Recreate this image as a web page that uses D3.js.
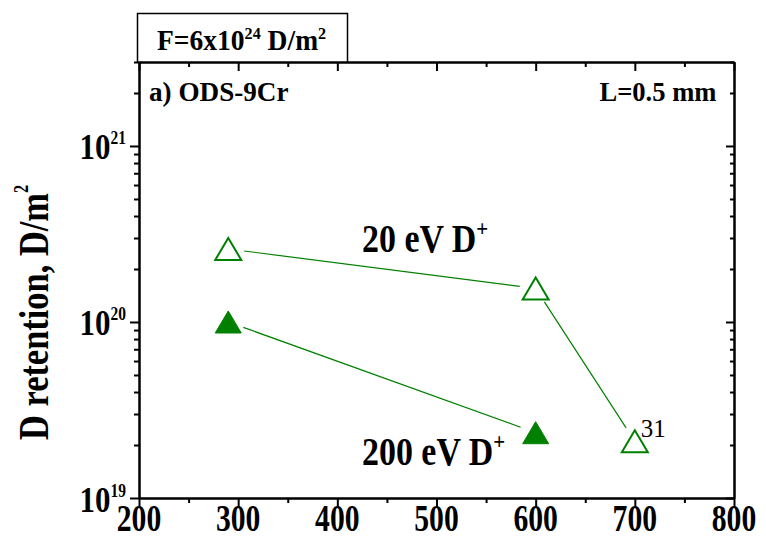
<!DOCTYPE html>
<html>
<head>
<meta charset="utf-8">
<script src="https://cdn.jsdelivr.net/npm/d3@7"></script>
<style>
  body { margin: 0; background: #fff; }
  svg { display: block; }
  text { font-family: "Liberation Serif", "Times New Roman", serif; fill: #000; }
</style>
</head>
<body>
<div id="chart"></div>
<script>
// Data
const xTicks = [200, 300, 400, 500, 600, 700, 800];
const xMinor = [250, 350, 450, 550, 650, 750];
const yMajor = [1e19, 1e20, 1e21];
const yExp = ['19', '20', '21'];

// 20 eV D+ (open) and 200 eV D+ (filled)
const xOpen = [290, 600, 700];
const yOpen = [2.6e20, 1.55e20, 2.1e19];
const xFilled = [290, 600];
const yFilled = [1.0e20, 2.35e19];

const green = '#008000';

// Draw area values
const W = 766, H = 540;
const area = { left: 139, right: 734, top: 62, bottom: 498 };

const svg = d3.select('#chart')
  .append('svg')
    .attr('width', W)
    .attr('height', H);

const x = d3.scaleLinear()
  .domain([200, 800])
  .range([area.left, area.right]);

const y = d3.scaleLog()
  .domain([1e19, 3e21])
  .range([area.bottom, area.top]);

// minor log ticks
const yMinor = [];
yMajor.forEach(d => {
  for (let k = 2; k <= 9; k++) {
    if (d * k <= 3e21 * 1.0001) yMinor.push(d * k);
  }
});

// axes (left/bottom outward, top/right inward)
function styleAxis(g) {
  g.select('.domain').attr('stroke', '#000').attr('stroke-width', 2);
  g.selectAll('.tick line').attr('stroke', '#000').attr('stroke-width', 2);
  g.selectAll('.tick text').remove();
}

svg.append('g')
  .attr('transform', `translate(0,${area.bottom})`)
  .call(d3.axisBottom(x).tickValues(xMinor).tickSize(5).tickSizeOuter(0).tickFormat(''))
  .call(styleAxis);
svg.append('g')
  .attr('transform', `translate(0,${area.bottom})`)
  .call(d3.axisBottom(x).tickValues(xTicks).tickSize(10).tickSizeOuter(0).tickFormat(''))
  .call(styleAxis);

svg.append('g')
  .attr('transform', `translate(0,${area.top})`)
  .call(d3.axisBottom(x).tickValues(xMinor).tickSize(5).tickSizeOuter(0).tickFormat(''))
  .call(styleAxis);
svg.append('g')
  .attr('transform', `translate(0,${area.top})`)
  .call(d3.axisBottom(x).tickValues(xTicks).tickSize(9).tickSizeOuter(0).tickFormat(''))
  .call(styleAxis);

svg.append('g')
  .attr('transform', `translate(${area.left},0)`)
  .call(d3.axisLeft(y).tickValues(yMinor).tickSize(5).tickSizeOuter(0).tickFormat(''))
  .call(styleAxis);
svg.append('g')
  .attr('transform', `translate(${area.left},0)`)
  .call(d3.axisLeft(y).tickValues(yMajor).tickSize(9).tickSizeOuter(0).tickFormat(''))
  .call(styleAxis);

svg.append('g')
  .attr('transform', `translate(${area.right},0)`)
  .call(d3.axisLeft(y).tickValues(yMinor).tickSize(4).tickSizeOuter(0).tickFormat(''))
  .call(styleAxis);
svg.append('g')
  .attr('transform', `translate(${area.right},0)`)
  .call(d3.axisLeft(y).tickValues(yMajor).tickSize(8).tickSizeOuter(0).tickFormat(''))
  .call(styleAxis);

// text helper: parts = [{t, s, dy}]
function addText(px, py, sx, anchor, weight, parts, rot) {
  const g = svg.append('g')
    .attr('transform', `translate(${px},${py})${rot ? ` rotate(${rot})` : ''} scale(${sx},1)`);
  const t = g.append('text')
    .attr('text-anchor', anchor)
    .attr('font-weight', weight);
  parts.forEach(p => {
    t.append('tspan').text(p.t).attr('font-size', p.s).attr('dy', p.dy || 0);
  });
  return g;
}

// x tick labels
xTicks.forEach(v => {
  addText(x(v), 531, 0.78, 'middle', 'bold', [{ t: String(v), s: 38 }]);
});

// y tick labels
yMajor.forEach((v, i) => {
  addText(126, y(v) + 13.5, 0.86, 'end', 'bold', [
    { t: '10', s: 36 },
    { t: yExp[i], s: 18, dy: -15 },
  ]);
});

// Y label
addText(48, 440, 0.82, 'start', 'bold', [
  { t: 'D retention, D/m', s: 42 },
  { t: '2', s: 20, dy: -20 },
], -90);

// Title box
svg.append('rect')
  .attr('x', 137.5)
  .attr('y', 13.5)
  .attr('width', 210)
  .attr('height', area.top - 13.5)
  .attr('fill', '#fff')
  .attr('stroke', '#000')
  .attr('stroke-width', 1.5);
addText(157, 49.5, 0.95, 'start', 'bold', [
  { t: 'F=6x10', s: 29 },
  { t: '24', s: 17, dy: -11 },
  { t: ' D/m', s: 29, dy: 11 },
  { t: '2', s: 17, dy: -11 },
]);

// panel labels
addText(149, 100.5, 0.97, 'start', 'bold', [{ t: 'a) ODS-9Cr', s: 28 }]);
addText(716.5, 101, 0.95, 'end', 'bold', [{ t: 'L=0.5 mm', s: 28 }]);

// Lines with gaps around markers
const gap = 16;
function gapLine(xs, ys) {
  for (let i = 0; i < xs.length - 1; i++) {
    const x1 = x(xs[i]), y1 = y(ys[i]);
    const x2 = x(xs[i + 1]), y2 = y(ys[i + 1]);
    const len = Math.hypot(x2 - x1, y2 - y1);
    const ux = (x2 - x1) / len, uy = (y2 - y1) / len;
    svg.append('line')
      .attr('x1', x1 + ux * gap).attr('y1', y1 + uy * gap)
      .attr('x2', x2 - ux * gap).attr('y2', y2 - uy * gap)
      .attr('stroke', green)
      .attr('stroke-width', 1.2);
  }
}
gapLine(xOpen, yOpen);
gapLine(xFilled, yFilled);

// Triangle markers
const tri = 'M0,-11L13,11L-13,11Z';
svg.append('g')
  .selectAll('path')
  .data(d3.zip(xOpen, yOpen))
  .join('path')
    .attr('d', tri)
    .attr('transform', d => `translate(${x(d[0])},${y(d[1])})`)
    .attr('fill', 'none')
    .attr('stroke', green)
    .attr('stroke-width', 2);
svg.append('g')
  .selectAll('path')
  .data(d3.zip(xFilled, yFilled))
  .join('path')
    .attr('d', tri)
    .attr('transform', d => `translate(${x(d[0])},${y(d[1])})`)
    .attr('fill', green)
    .attr('stroke', green)
    .attr('stroke-width', 1);

// series labels
addText(362, 252, 0.87, 'start', 'bold', [
  { t: '20 eV D', s: 39 },
  { t: '+', s: 24, dy: -16 },
]);
addText(362, 465, 0.87, 'start', 'bold', [
  { t: '200 eV D', s: 39 },
  { t: '+', s: 24, dy: -16 },
]);

// reference number
addText(x(700) + 6, 437, 1, 'start', 'normal', [{ t: '31', s: 25 }]);
</script>
</body>
</html>
